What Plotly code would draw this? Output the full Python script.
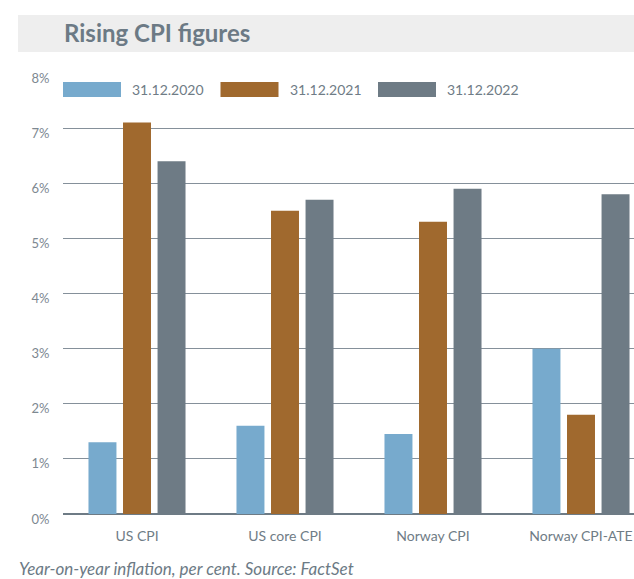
import plotly.graph_objects as go

categories = ["US CPI", "US core CPI", "Norway CPI", "Norway CPI-ATE"]
series_names = ["31.12.2020", "31.12.2021", "31.12.2022"]
values_2020 = [1.3, 1.6, 1.45, 3.0]
values_2021 = [7.1, 5.5, 5.3, 1.8]
values_2022 = [6.4, 5.7, 5.9, 5.8]
tick_vals = [0, 1, 2, 3, 4, 5, 6, 7, 8]
tick_text = ["0%", "1%", "2%", "3%", "4%", "5%", "6%", "7%", "8%"]
title_text = "Rising CPI figures"
caption_text = "Year-on-year inflation, per cent. Source: FactSet"

colors = ["#77aacd", "#a0692e", "#6e7b85"]
series_values = [values_2020, values_2021, values_2022]

W, H = 634, 579
L, T, R, B = 63, 73, 0, 65
plot_w = W - L - R
plot_h = H - T - B
group_px = 148.0


def px_x(px):
    return (px - L) / plot_w


def px_y(py):
    return (H - B - py) / plot_h


fig = go.Figure()
for name, vals, col in zip(series_names, series_values, colors):
    fig.add_trace(go.Bar(
        x=list(range(len(categories))), y=vals, name=name,
        marker=dict(color=col, line=dict(width=0)),
        showlegend=False, hoverinfo="skip",
    ))

x_span = plot_w / group_px

fig.update_layout(
    width=W, height=H,
    margin=dict(l=L, r=R, t=T, b=B, pad=0),
    paper_bgcolor="white", plot_bgcolor="white",
    barmode="group", bargap=0.30, bargroupgap=0.19,
    font=dict(family="Lato", color="#7a868f", size=14),
    xaxis=dict(
        range=[-0.5, -0.5 + x_span],
        tickmode="array", tickvals=list(range(len(categories))), ticktext=categories,
        showgrid=False, zeroline=False, showline=False,
        ticks="outside", ticklen=9, tickcolor="rgba(0,0,0,0)",
        tickfont=dict(family="Lato", size=14, color="#6f7c86"),
    ),
    yaxis=dict(
        range=[0, 8], tickmode="array", tickvals=tick_vals, ticktext=tick_text,
        showgrid=True, gridcolor="#85909a", gridwidth=1,
        zeroline=True, zerolinecolor="#6e7b85", zerolinewidth=2,
        showline=False, ticks="outside", ticklen=10, tickcolor="rgba(0,0,0,0)",
        ticklabelstandoff=0, ticklabelshift=5,
        tickfont=dict(family="Lato", size=13, color="#7d8891"),
    ),
)

shapes = []
annotations = []
# Title band
shapes.append(dict(type="rect", xref="paper", yref="paper",
                   x0=px_x(18), x1=px_x(W), y0=px_y(52), y1=px_y(15),
                   fillcolor="#eeeeee", line=dict(width=0), layer="below"))
annotations.append(dict(xref="paper", yref="paper", x=px_x(62), y=px_y(33),
                        xanchor="left", yanchor="middle", showarrow=False,
                        text="<b>" + title_text + "</b>",
                        font=dict(family="Lato", size=24, color="#6c7a85")))
# Legend (custom wide swatches)
for i, (name, col) in enumerate(zip(series_names, colors)):
    start = 63 + i * 157.5
    shapes.append(dict(type="rect", xref="paper", yref="paper",
                       x0=px_x(start), x1=px_x(start + 58),
                       y0=px_y(97), y1=px_y(82),
                       fillcolor=col, line=dict(width=0)))
    annotations.append(dict(xref="paper", yref="paper", x=px_x(start + 67), y=px_y(89.5),
                            xanchor="left", yanchor="middle", showarrow=False,
                            text=name, font=dict(family="Lato", size=14, color="#6f7c86")))
# Caption
annotations.append(dict(xref="paper", yref="paper", x=px_x(17), y=px_y(568),
                        xanchor="left", yanchor="middle", showarrow=False,
                        text="<i>" + caption_text + "</i>",
                        font=dict(family="Lato", size=17, color="#6c7a85")))

fig.update_layout(shapes=shapes, annotations=annotations)
fig.write_html("out.html", config={"displayModeBar": False},
               post_script="document.body.style.margin='0';document.body.style.overflow='hidden';")
